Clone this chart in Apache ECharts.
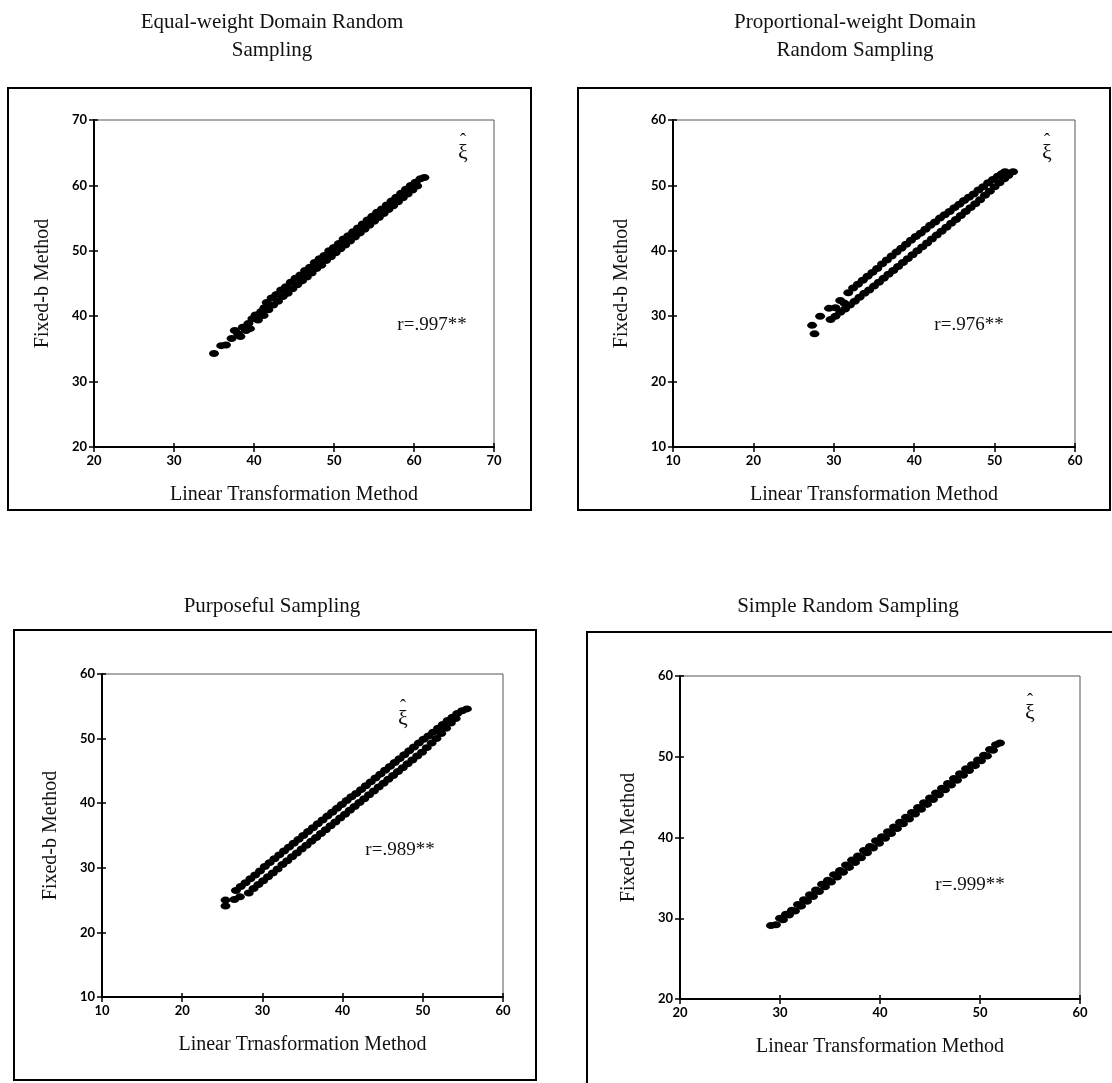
<!DOCTYPE html>
<html>
<head>
<meta charset="utf-8">
<script src="https://cdn.jsdelivr.net/npm/echarts@6/dist/echarts.min.js"></script>
<style>
html,body{margin:0;padding:0;background:#fff;}
#chart{width:1112px;height:1083px;}
</style>
</head>
<body>
<div id="chart"></div>
<script>
// ---------- DATA ----------
var panelTitles = [
  'Equal-weight Domain Random\nSampling',
  'Proportional-weight Domain\nRandom Sampling',
  'Purposeful Sampling',
  'Simple Random Sampling'
];
var xAxisTitles = [
  'Linear Transformation Method',
  'Linear Transformation Method',
  'Linear Trnasformation Method',
  'Linear Transformation Method'
];
var yAxisTitle = 'Fixed-b Method';
var corrLabels = ['r=.997**', 'r=.976**', 'r=.989**', 'r=.999**'];
var estimatorSymbol = '\u03BE';
var estimatorHat = '\u02C6';
var axisMin = [20, 10, 10, 20];
var axisMax = [70, 60, 60, 60];

// Equal-weight Domain Random Sampling: [linear transformation, fixed-b]
var equalWeightPoints = [
  [35.0,34.3],[35.9,35.5],[36.5,35.6],[37.2,36.6],[37.6,37.8],[38.0,37.3],[38.3,36.9],
  [38.6,38.3],[39.0,37.8],[39.3,38.9],[39.5,38.1],[39.8,39.6],[40.2,40.2],[40.5,39.4],
  [40.9,40.7],[41.2,40.1],[41.3,41.3],
  [41.6,42.1],[42.2,42.8],[42.8,43.3],[43.4,44.0],[44.0,44.5],[44.6,45.2],[45.2,45.8],
  [45.8,46.3],[46.4,47.0],[47.0,47.5],[47.6,48.2],[48.2,48.8],[48.8,49.3],[49.4,50.0],
  [50.0,50.5],[50.6,51.1],[51.2,51.8],[51.8,52.3],[52.4,52.9],[53.0,53.5],[53.6,54.1],
  [54.2,54.7],[54.8,55.3],[55.4,55.9],[56.0,56.4],[56.6,57.0],[57.2,57.6],[57.8,58.2],
  [58.4,58.8],[59.0,59.4],[59.6,60.0],[60.2,60.5],[60.8,61.0],[61.3,61.2],
  [41.8,41.0],[42.4,41.7],[43.0,42.3],[43.6,43.0],[44.2,43.5],[44.8,44.2],[45.4,44.8],
  [46.0,45.4],[46.6,46.0],[47.2,46.6],[47.8,47.3],[48.4,47.8],[49.0,48.5],[49.6,49.1],
  [50.2,49.7],[50.8,50.3],[51.4,50.9],[52.0,51.5],[52.6,52.1],[53.2,52.7],[53.8,53.3],
  [54.4,53.9],[55.0,54.5],[55.6,55.1],[56.2,55.7],[56.8,56.3],[57.4,56.9],[58.0,57.5],
  [58.6,58.1],[59.2,58.7],[59.8,59.3],[60.4,59.9]
];

// Proportional-weight Domain Random Sampling
var proportionalWeightPoints = [
  [27.3,28.6],[27.6,27.3],[28.3,30.0],[29.4,31.2],[30.2,31.3],[30.8,32.4],[31.3,32.0],
  // upper band
  [31.8,33.6],[32.4,34.3],[33.0,34.9],[33.6,35.5],[34.2,36.1],[34.8,36.7],[35.4,37.3],
  [36.0,38.0],[36.6,38.6],[37.2,39.2],[37.8,39.8],[38.4,40.4],[39.0,41.0],[39.6,41.6],
  [40.2,42.2],[40.8,42.7],[41.4,43.3],[42.0,43.9],[42.6,44.4],[43.2,45.0],[43.8,45.5],
  [44.4,46.0],[45.0,46.6],[45.6,47.1],[46.2,47.7],[46.8,48.2],[47.4,48.7],[48.0,49.3],
  [48.6,49.8],[49.2,50.4],[49.8,50.9],[50.4,51.4],[50.9,51.8],[51.3,52.1],
  // lower band
  [29.6,29.5],[30.2,30.0],[30.8,30.6],[31.4,31.1],[32.0,31.7],[32.6,32.3],[33.2,32.9],
  [33.8,33.5],[34.4,34.0],[35.0,34.6],[35.6,35.2],[36.2,35.8],[36.8,36.4],[37.4,37.0],
  [38.0,37.6],[38.6,38.2],[39.2,38.8],[39.8,39.4],[40.4,40.0],[41.0,40.6],[41.6,41.2],
  [42.2,41.8],[42.8,42.4],[43.4,43.0],[44.0,43.6],[44.6,44.2],[45.2,44.8],[45.8,45.4],
  [46.4,46.0],[47.0,46.6],[47.6,47.2],[48.2,47.8],[48.8,48.5],[49.4,49.1],[50.0,49.8],
  [50.6,50.4],[51.2,51.0],[51.7,51.5],[52.3,52.1]
];

// Purposeful Sampling
var purposefulPoints = [
  [25.4,24.1],[25.4,25.0],[26.5,25.1],[27.2,25.5],[28.3,26.1],
  // upper band
  [26.7,26.5],[27.3,27.1],[27.9,27.7],[28.5,28.3],[29.1,28.9],[29.7,29.5],[30.3,30.2],
  [30.9,30.8],[31.5,31.4],[32.1,32.0],[32.7,32.6],[33.3,33.2],[33.9,33.8],[34.5,34.4],
  [35.1,35.0],[35.7,35.6],[36.3,36.2],[36.9,36.8],[37.5,37.4],[38.1,38.0],[38.7,38.6],
  [39.3,39.2],[39.9,39.8],[40.5,40.4],[41.1,41.0],[41.7,41.5],[42.3,42.1],[42.9,42.7],
  [43.5,43.3],[44.1,43.9],[44.7,44.5],[45.3,45.1],[45.9,45.7],[46.5,46.3],[47.1,46.9],
  [47.7,47.5],[48.3,48.1],[48.9,48.7],[49.5,49.3],[50.1,49.9],[50.7,50.4],[51.3,51.0],
  [51.9,51.6],[52.5,52.2],[53.1,52.8],[53.7,53.3],[54.3,53.9],[54.9,54.3],[55.5,54.6],
  // lower band
  [28.9,26.8],[29.5,27.4],[30.1,28.0],[30.7,28.6],[31.3,29.2],[31.9,29.8],[32.5,30.5],
  [33.1,31.1],[33.7,31.7],[34.3,32.3],[34.9,32.9],[35.5,33.5],[36.1,34.1],[36.7,34.7],
  [37.3,35.3],[37.9,35.9],[38.5,36.5],[39.1,37.1],[39.7,37.7],[40.3,38.3],[40.9,38.9],
  [41.5,39.5],[42.1,40.1],[42.7,40.7],[43.3,41.3],[43.9,41.9],[44.5,42.5],[45.1,43.1],
  [45.7,43.7],[46.3,44.3],[46.9,44.9],[47.5,45.5],[48.1,46.1],[48.7,46.7],[49.3,47.3],
  [49.9,47.9],[50.5,48.6],[51.1,49.3],[51.7,50.0],[52.3,50.8],[52.9,51.6],[53.5,52.4],
  [54.1,53.1]
];

// Simple Random Sampling
var simpleRandomPoints = [
  [29.1,29.1],[29.6,29.2],[30.0,30.0],[30.6,30.5],[31.2,31.0],[31.8,31.7],[32.4,32.3],
  [33.0,32.9],[33.6,33.5],[34.2,34.2],[34.8,34.7],[35.4,35.4],[36.0,35.9],[36.6,36.6],
  [37.2,37.2],[37.8,37.7],[38.4,38.4],[39.0,38.9],[39.6,39.6],[40.2,40.1],[40.8,40.7],
  [41.4,41.3],[42.0,41.9],[42.6,42.5],[43.2,43.1],[43.8,43.7],[44.4,44.3],[45.0,44.9],
  [45.6,45.5],[46.2,46.1],[46.8,46.7],[47.4,47.3],[48.0,47.9],[48.6,48.5],[49.2,49.0],
  [49.8,49.6],[50.4,50.2],[51.0,50.9],[51.6,51.5],[52.0,51.7],
  [30.3,29.8],[30.9,30.4],[31.5,30.9],[32.1,31.5],[32.7,32.1],[33.3,32.7],[33.9,33.3],
  [34.5,33.9],[35.1,34.5],[35.7,35.1],[36.3,35.7],[36.9,36.3],[37.5,36.9],[38.1,37.5],
  [38.7,38.1],[39.3,38.7],[39.9,39.3],[40.5,39.9],[41.1,40.5],[41.7,41.1],[42.3,41.7],
  [42.9,42.3],[43.5,42.9],[44.1,43.5],[44.7,44.1],[45.3,44.7],[45.9,45.3],[46.5,45.9],
  [47.1,46.5],[47.7,47.1],[48.3,47.7],[48.9,48.3],[49.5,48.9],[50.1,49.5],[50.7,50.1],
  [51.3,50.8]
];

var seriesData = [equalWeightPoints, proportionalWeightPoints, purposefulPoints, simpleRandomPoints];

// ---------- LAYOUT ----------
var grids = [
  {left: 94,  top: 120, width: 400, height: 327},
  {left: 673, top: 120, width: 402, height: 327},
  {left: 102, top: 674, width: 401, height: 323},
  {left: 680, top: 676, width: 400, height: 323}
];
var boxes = [
  {x: 8,   y: 88,  w: 523, h: 422},
  {x: 578, y: 88,  w: 532, h: 422},
  {x: 14,  y: 630, w: 522, h: 450},
  {x: 587, y: 632, w: 530, h: 455}
];
var titlePos = [[272, 8], [855, 8], [272, 592], [848, 592]];
var xiPos = [[463, 153], [1047, 153], [403, 719], [1030, 713]];
var corrPos = [[432, 325], [969, 325], [400, 850], [970, 885]];

var serif = '"Liberation Serif","Times New Roman",serif';
var tickFont = 'Lato';

var xAxes = [], yAxes = [];
grids.forEach(function (g, i) {
  xAxes.push({
    type: 'value', gridIndex: i, min: axisMin[i], max: axisMax[i], interval: 10, position: 'bottom',
    name: xAxisTitles[i], nameLocation: 'middle', nameGap: 38,
    nameTextStyle: {fontFamily: serif, fontSize: 20, color: '#111'},
    axisLine: {show: true, onZero: false, lineStyle: {color: '#000', width: 2}},
    axisTick: {show: true, length: 5, lineStyle: {color: '#000', width: 1.5}},
    axisLabel: {fontFamily: tickFont, fontWeight: 'bold', fontSize: 13, color: '#000', margin: 7},
    splitLine: {show: false}
  });
  yAxes.push({
    type: 'value', gridIndex: i, min: axisMin[i], max: axisMax[i], interval: 10, position: 'left',
    name: yAxisTitle, nameLocation: 'middle', nameGap: 41,
    nameTextStyle: {fontFamily: serif, fontSize: 20, color: '#111'},
    axisLine: {show: true, onZero: false, lineStyle: {color: '#000', width: 2}},
    axisTick: {show: true, length: 5, lineStyle: {color: '#000', width: 1.5}},
    axisLabel: {fontFamily: tickFont, fontWeight: 'bold', fontSize: 13, color: '#000', margin: 7},
    splitLine: {show: false}
  });
});
// inner halves of the crossing tick marks
grids.forEach(function (g, i) {
  xAxes.push({
    type: 'value', gridIndex: i, min: axisMin[i], max: axisMax[i], interval: 10, position: 'bottom', offset: 0,
    axisLine: {show: false}, axisLabel: {show: false}, splitLine: {show: false},
    axisTick: {show: true, inside: true, length: 4, lineStyle: {color: '#000', width: 1.5}}
  });
  yAxes.push({
    type: 'value', gridIndex: i, min: axisMin[i], max: axisMax[i], interval: 10, position: 'left', offset: 0,
    axisLine: {show: false}, axisLabel: {show: false}, splitLine: {show: false},
    axisTick: {show: true, inside: true, length: 4, lineStyle: {color: '#000', width: 1.5}}
  });
});

var option = {
  backgroundColor: '#fff',
  animation: false,
  grid: grids.map(function (g) {
    return {left: g.left, top: g.top, width: g.width, height: g.height,
      show: true, borderColor: '#555', borderWidth: 1, backgroundColor: 'transparent'};
  }),
  xAxis: xAxes,
  yAxis: yAxes,
  series: seriesData.map(function (d, i) {
    return {
      type: 'scatter', xAxisIndex: i, yAxisIndex: i, data: d,
      symbol: 'circle', symbolSize: [10, 7],
      itemStyle: {color: '#000', opacity: 1}
    };
  }),
  graphic: []
};

boxes.forEach(function (b) {
  option.graphic.push({type: 'rect', shape: {x: b.x, y: b.y, width: b.w, height: b.h},
    style: {fill: 'none', stroke: '#000', lineWidth: 2}, z: 1});
});
panelTitles.forEach(function (t, i) {
  option.graphic.push({type: 'text', x: titlePos[i][0], y: titlePos[i][1],
    style: {text: t, font: '21px ' + serif, fill: '#111', textAlign: 'center', lineHeight: 28}});
});
corrLabels.forEach(function (t, i) {
  option.graphic.push({type: 'text', x: corrPos[i][0], y: corrPos[i][1],
    style: {text: t, font: '19px ' + serif, fill: '#111', textAlign: 'center', textVerticalAlign: 'middle'}});
  option.graphic.push({type: 'text', x: xiPos[i][0], y: xiPos[i][1],
    style: {text: estimatorSymbol, font: '22px ' + serif, fill: '#111', textAlign: 'center', textVerticalAlign: 'middle'}});
  option.graphic.push({type: 'text', x: xiPos[i][0], y: xiPos[i][1] - 12,
    style: {text: estimatorHat, font: '18px ' + serif, fill: '#111', textAlign: 'center', textVerticalAlign: 'middle'}});
});

var chart = echarts.init(document.getElementById('chart'), null, {renderer: 'canvas'});
chart.setOption(option);
</script>
</body>
</html>
